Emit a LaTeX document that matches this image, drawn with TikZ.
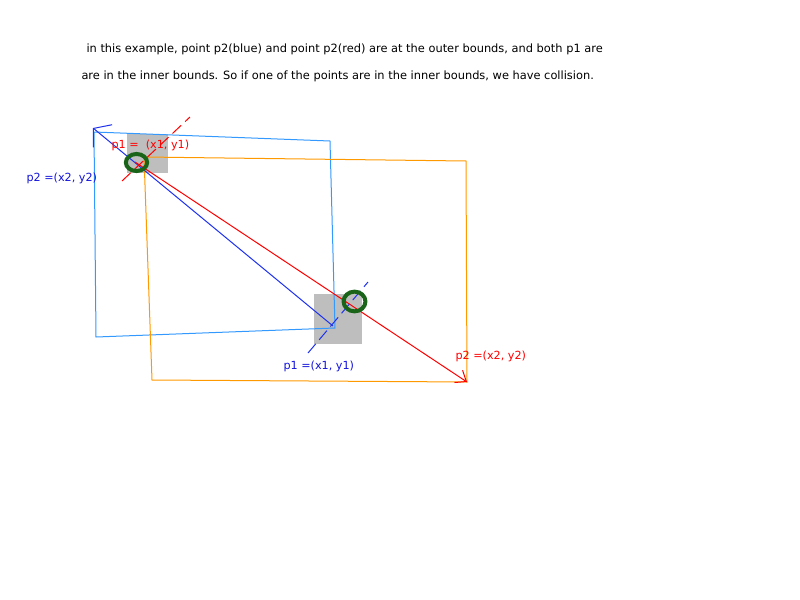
\documentclass[tikz,border=0pt]{standalone}
\usepackage{fontspec}
\setmainfont{DejaVu Sans}
\usetikzlibrary{arrows.meta}
\definecolor{lightblue}{RGB}{51,153,255}
\definecolor{boundorange}{RGB}{255,153,0}
\definecolor{arrowblue}{RGB}{30,50,240}
\definecolor{labelblue}{RGB}{20,20,220}
\definecolor{hitgreen}{RGB}{25,100,25}
\definecolor{boxgray}{RGB}{190,190,190}

\begin{document}
\begin{tikzpicture}[x=0.75pt,y=-0.75pt,line width=0.75pt,
		txt/.style={anchor=west,inner sep=0pt,font=\fontsize{8.55}{10}\selectfont},
		lbl/.style={anchor=west,inner sep=0pt,font=\fontsize{8.4}{10}\selectfont},
		tickline/.style={dash pattern=on 9pt off 4pt},
		hit/.style={draw=hitgreen,line width=3pt}]
		\useasboundingbox[fill=white] (0,0) rectangle (800,600);
		
		\coordinate (blueP2) at (93,128);
		\coordinate (blueP1) at (333,326);
		\coordinate (redP1) at (135,162);
		\coordinate (redP2) at (467,382);
		
		\fill[boxgray] (127,134) rectangle (168,173);
		\fill[boxgray] (314,294) rectangle (362,344);
		
		\draw[lightblue] (94,132)--(330,141)--(335,328)--(96,337)--cycle;
		\draw[boundorange] (144,157)--(466,161)--(467,382)--(152,380)--cycle;
		
		\draw[arrowblue, {Straight Barb[length=9pt,width=22pt]}-] (blueP2)--(blueP1);
		\draw[red, -{Straight Barb[length=7pt,width=11pt]}] (redP1)--(redP2);
		
		\draw[red, tickline] (122,181)--(190,117);
		\draw[arrowblue, tickline] (308,353)--(368,282);
		
		\draw[hit] (136.5,162.5) ellipse [x radius=8pt, y radius=6.4pt];
		\draw[hit] (354.5,301.5) ellipse [x radius=8.2pt, y radius=7.4pt];
		
		\node[txt] (line1) at (86,49) {in this example, point p2(blue) and point p2(red) are at the outer bounds, and both p1 are};
		\node[txt] (line2) at (81,76) {are in the inner bounds. So if one of the points are in the inner bounds, we have collision.};
		\node[lbl, red] (redP1lbl) at (111,145) {p1 =\ \ (x1, y1)};
		\node[lbl, labelblue] (blueP2lbl) at (26,178) {p2 =(x2, y2)};
		\node[lbl, labelblue] (blueP1lbl) at (283,366) {p1 =(x1, y1)};
		\node[lbl, red] (redP2lbl) at (455,356) {p2 =(x2, y2)};
	\end{tikzpicture}
\end{document}
